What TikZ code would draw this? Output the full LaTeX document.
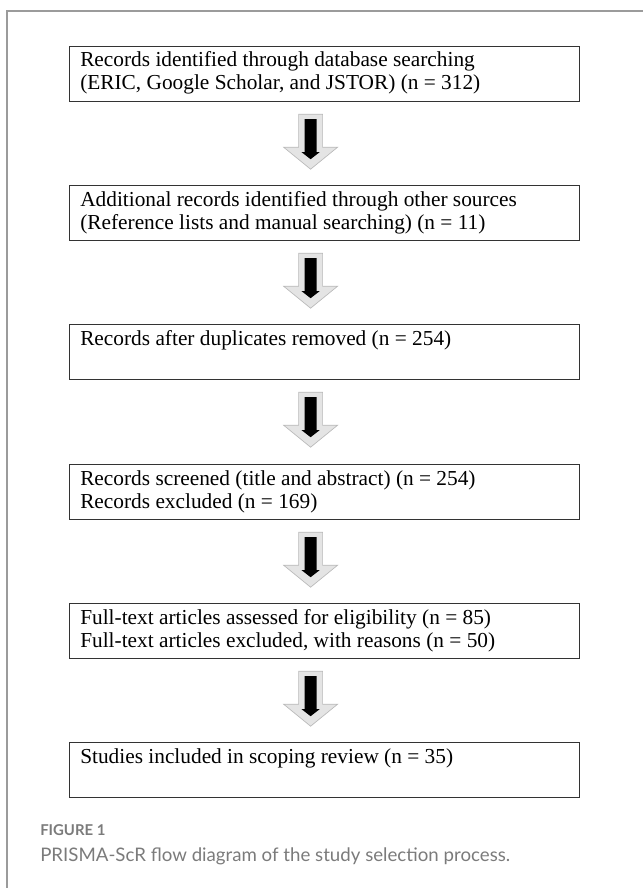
\documentclass[tikz,border=0pt]{standalone}
\usepackage{fontspec}
\setmainfont{Liberation Serif}
\newfontfamily\capfont{Lato}
\usetikzlibrary{calc,positioning}

\definecolor{framegray}{HTML}{9B9B9B}
\definecolor{capgray}{HTML}{7B7B7B}
\definecolor{headgray}{HTML}{D2D2D2}

\tikzset{
  stagebox/.style={draw=black!80,line width=0.9pt,inner sep=0pt,anchor=north west,
    minimum width=382.5pt,minimum height=41.25pt},
  stagetext/.style={anchor=base west,inner sep=0pt,align=left,
    font=\fontsize{16}{17.25}\selectfont},
  shadearrow/.style={fill=headgray!60,draw=gray!55,line width=0.5pt},
  inkarrow/.style={fill=black}
}

% flecha doble entre dos cajas
\newcommand{\stagearrow}[1]{%
  \coordinate (A) at ($(#1.south)+(-14,0)$);
  \draw[shadearrow] (A) ++(-12,12) -- ++(24,0) -- ++(0,33) -- ++(15,0)
    -- ++(-27,22) -- ++(-27,-22) -- ++(15,0) -- cycle;
  \fill[inkarrow] (A) ++(-6,17) -- ++(12,0) -- ++(0,33) -- ++(3,0)
    -- ++(-9,7) -- ++(-9,-7) -- ++(3,0) -- cycle;
}

\begin{document}
\begin{tikzpicture}[x=0.75pt,y=-0.75pt]
  \useasboundingbox (0,0) rectangle (642,888);
  % marco
  \draw[framegray,line width=0.9pt] (7,900) -- (7,11) -- (660,11);
  % cajas
  \node[stagebox] (b1) at (69,46) {};
  \node[stagebox] (b2) at (69,185) {};
  \node[stagebox] (b3) at (69,324) {};
  \node[stagebox] (b4) at (69,464) {};
  \node[stagebox] (b5) at (69,603) {};
  \node[stagebox] (b6) at (69,742) {};
  % textos (base = ultima linea)
  \node[stagetext] (t1) at ($(b1.north west)+(11,44)$)
    {Records identified through database searching\\(ERIC, Google Scholar, and JSTOR) (n = 312)};
  \node[stagetext] (t2) at ($(b2.north west)+(11,44)$)
    {Additional records identified through other sources\\(Reference lists and manual searching) (n = 11)};
  \node[stagetext] (t3) at ($(b3.north west)+(11,21)$)
    {Records after duplicates removed (n = 254)};
  \node[stagetext] (t4) at ($(b4.north west)+(11,44)$)
    {Records screened (title and abstract) (n = 254)\\Records excluded (n = 169)};
  \node[stagetext] (t5) at ($(b5.north west)+(11,44)$)
    {Full-text articles assessed for eligibility (n = 85)\\Full-text articles excluded, with reasons (n = 50)};
  \node[stagetext] (t6) at ($(b6.north west)+(11,21)$)
    {Studies included in scoping review (n = 35)};
  % flechas
  \stagearrow{b1}
  \stagearrow{b2}
  \stagearrow{b3}
  \stagearrow{b4}
  \stagearrow{b5}
  % pie de figura
  \node[anchor=base west,inner sep=0pt,text=capgray,font=\capfont\bfseries\fontsize{11.2}{13}\selectfont]
    (fig) at (40,835) {FIGURE 1};
  \node[anchor=base west,inner sep=0pt,text=capgray,font=\capfont\fontsize{14}{17}\selectfont]
    (cap) at (40,861) {PRISMA-ScR flow diagram of the study selection process.};
\end{tikzpicture}
\end{document}
